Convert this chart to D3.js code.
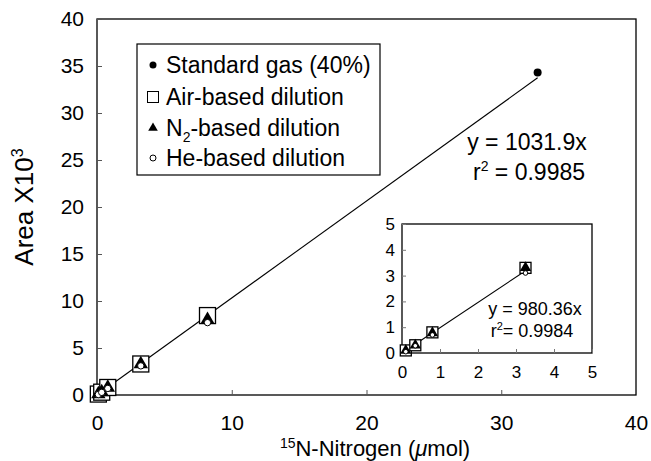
<!DOCTYPE html>
<html>
<head>
<meta charset="utf-8">
<title>15N calibration</title>
<script src="https://cdn.jsdelivr.net/npm/d3@7"></script>
<style>
  body { margin: 0; background: #fff; }
  text { font-family: "Liberation Sans", Arial, sans-serif; fill: #000; }
</style>
</head>
<body>
<script>
// data
var stdX = [32.7], stdY = [34.3];
var airX = [0.1, 0.35, 0.8, 3.25, 8.2], airY = [0.1, 0.3, 0.8, 3.3, 8.45];
var n2X  = [0.1, 0.35, 0.8, 3.25, 8.2], n2Y  = [0.1, 0.3, 0.78, 3.3, 8.0];
var heX  = [0.1, 0.35, 0.8, 3.25, 8.2], heY  = [0.05, 0.28, 0.7, 3.1, 7.7];
var mainTicksX = [0, 10, 20, 30, 40], mainTicksY = [0, 5, 10, 15, 20, 25, 30, 35, 40];
var insetTicks = [0, 1, 2, 3, 4, 5];
var mainFit = {slope: 1.0319, xMax: 32.7};
var insetFit = {slope: 0.98036, xMax: 3.3};
var legendLabels = ["Standard gas (40%)", "Air-based dilution", "N2-based dilution", "He-based dilution"];

function pts(xs, ys) { return xs.map(function(x, i) { return {x: x, y: ys[i]}; }); }

var svg = d3.select("body").append("svg").attr("width", 651).attr("height", 461);

// main scales
var x = d3.scaleLinear().domain([0, 40]).range([97, 636]);
var y = d3.scaleLinear().domain([0, 40]).range([395, 19]);

svg.append("rect").attr("x", 97).attr("y", 19).attr("width", 539).attr("height", 376)
  .attr("fill", "none").attr("stroke", "#000").attr("stroke-width", 1.3);

var gx = svg.append("g").attr("transform", "translate(0,395)")
  .call(d3.axisBottom(x).tickValues(mainTicksX).tickSizeInner(-5).tickSizeOuter(0).tickPadding(20));
var gy = svg.append("g").attr("transform", "translate(97,0)")
  .call(d3.axisLeft(y).tickValues(mainTicksY).tickSizeInner(-5).tickSizeOuter(0).tickPadding(13));
[gx, gy].forEach(function(g) {
  g.select(".domain").remove();
  g.selectAll("text").style("font-size", "21px").attr("font-family", null);
  g.selectAll("line").attr("stroke", "#555");
});

// axis titles
var xt = svg.append("text").attr("x", 375).attr("y", 456).attr("text-anchor", "middle").style("font-size", "22px");
xt.append("tspan").text("15").style("font-size", "14px").attr("dy", "-8");
xt.append("tspan").text("N-Nitrogen (").attr("dy", "8");
xt.append("tspan").text("\u03bc").style("font-style", "italic");
xt.append("tspan").text("mol)");

var yt = svg.append("text").attr("transform", "translate(33,207) rotate(-90)").attr("text-anchor", "middle").style("font-size", "26px");
yt.append("tspan").text("Area X10");
yt.append("tspan").text("3").style("font-size", "16px").attr("dy", "-10");

function drawFit(g, sx, sy, fit) {
  g.append("line")
    .attr("x1", sx(0)).attr("y1", sy(0))
    .attr("x2", sx(fit.xMax)).attr("y2", sy(fit.slope * fit.xMax))
    .attr("stroke", "#000").attr("stroke-width", 1.1);
}

function drawMarkers(g, sx, sy, sq, tri, cr) {
  g.selectAll(".sq").data(pts(airX, airY)).enter().append("rect")
    .attr("x", function(d) { return sx(d.x) - sq / 2; })
    .attr("y", function(d) { return sy(d.y) - sq / 2; })
    .attr("width", sq).attr("height", sq)
    .attr("fill", "#fff").attr("stroke", "#000").attr("stroke-width", 1.3);
  g.selectAll(".tri").data(pts(n2X, n2Y)).enter().append("path")
    .attr("d", d3.symbol(d3.symbolTriangle, tri))
    .attr("transform", function(d) { return "translate(" + sx(d.x) + "," + sy(d.y) + ")"; })
    .attr("fill", "#000");
  g.selectAll(".he").data(pts(heX, heY)).enter().append("circle")
    .attr("cx", function(d) { return sx(d.x); }).attr("cy", function(d) { return sy(d.y); })
    .attr("r", cr).attr("fill", "#fff").attr("stroke", "#000").attr("stroke-width", 1);
}

var gMain = svg.append("g");
drawFit(gMain, x, y, mainFit);
drawMarkers(gMain, x, y, 16, 90, 3.2);
gMain.selectAll(".std").data(pts(stdX, stdY)).enter().append("circle")
  .attr("cx", function(d) { return x(d.x); }).attr("cy", function(d) { return y(d.y); })
  .attr("r", 4).attr("fill", "#000");

// equation
svg.append("text").attr("x", 527).attr("y", 150).attr("text-anchor", "middle").style("font-size", "23px").text("y = 1031.9x");
var r2 = svg.append("text").attr("x", 529).attr("y", 180).attr("text-anchor", "middle").style("font-size", "23px");
r2.append("tspan").text("r");
r2.append("tspan").text("2").style("font-size", "14px").attr("dy", "-9");
r2.append("tspan").text(" = 0.9985").attr("dy", "9");

// legend
var lg = svg.append("g");
lg.append("rect").attr("x", 137).attr("y", 44).attr("width", 243).attr("height", 131)
  .attr("fill", "#fff").attr("stroke", "#000").attr("stroke-width", 1.2);
var rowY = [65, 97, 128, 158];
lg.append("circle").attr("cx", 153).attr("cy", rowY[0]).attr("r", 3.5).attr("fill", "#000");
lg.append("rect").attr("x", 147.5).attr("y", rowY[1] - 5.5).attr("width", 11).attr("height", 11)
  .attr("fill", "#fff").attr("stroke", "#000").attr("stroke-width", 1);
lg.append("path").attr("d", d3.symbol(d3.symbolTriangle, 40)).attr("transform", "translate(153," + rowY[2] + ")").attr("fill", "#000");
lg.append("circle").attr("cx", 153).attr("cy", rowY[3]).attr("r", 3).attr("fill", "#fff").attr("stroke", "#000");
legendLabels.forEach(function(l, i) {
  var t = lg.append("text").attr("x", 166).attr("y", rowY[i] + 8).style("font-size", "23px");
  if (l.indexOf("N2") === 0) {
    t.append("tspan").text("N");
    t.append("tspan").text("2").style("font-size", "14px").attr("dy", "6");
    t.append("tspan").text(l.slice(2)).attr("dy", "-6");
  } else {
    t.text(l);
  }
});

// inset
var xi = d3.scaleLinear().domain([0, 5]).range([402, 592]);
var yi = d3.scaleLinear().domain([0, 5]).range([353, 224]);
var gi = svg.append("g");
gi.append("rect").attr("x", 402).attr("y", 224).attr("width", 190).attr("height", 129)
  .attr("fill", "#fff").attr("stroke", "#000").attr("stroke-width", 1.3);
var gix = gi.append("g").attr("transform", "translate(0,353)")
  .call(d3.axisBottom(xi).tickValues(insetTicks).tickFormat(d3.format("d")).tickSizeInner(-4).tickSizeOuter(0).tickPadding(13));
var giy = gi.append("g").attr("transform", "translate(402,0)")
  .call(d3.axisLeft(yi).tickValues(insetTicks).tickFormat(d3.format("d")).tickSizeInner(-4).tickSizeOuter(0).tickPadding(7));
[gix, giy].forEach(function(g) {
  g.select(".domain").remove();
  g.selectAll("text").style("font-size", "17px").attr("font-family", null);
  g.selectAll("line").attr("stroke", "#777");
});
drawFit(gi, xi, yi, insetFit);
drawMarkers(gi, xi, yi, 11, 55, 2.3);

gi.append("text").attr("x", 535).attr("y", 315).attr("text-anchor", "middle").style("font-size", "18px").text("y = 980.36x");
var r2i = gi.append("text").attr("x", 532).attr("y", 337).attr("text-anchor", "middle").style("font-size", "18px");
r2i.append("tspan").text("r");
r2i.append("tspan").text("2").style("font-size", "11px").attr("dy", "-7");
r2i.append("tspan").text("= 0.9984").attr("dy", "7");
</script>
</body>
</html>
